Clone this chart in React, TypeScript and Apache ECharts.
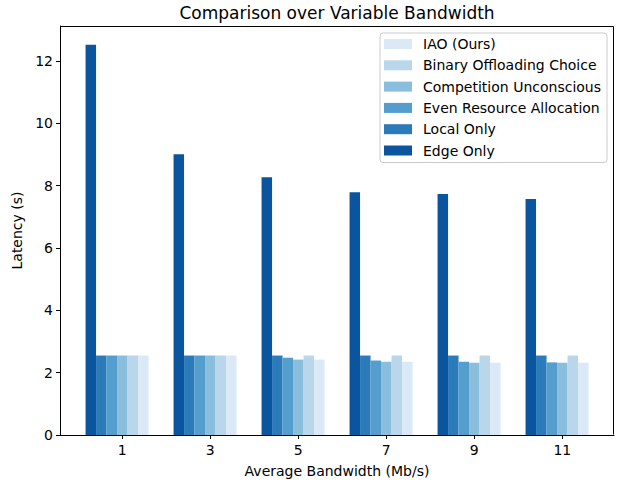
import React, { useEffect, useRef } from "react";
import * as echarts from "echarts";

const bandwidths = [1, 3, 5, 7, 9, 11];
const edgeOnly = [12.52, 9.01, 8.27, 7.79, 7.73, 7.57];
const localOnly = [2.55, 2.55, 2.55, 2.55, 2.55, 2.55];
const evenResource = [2.55, 2.55, 2.48, 2.39, 2.35, 2.33];
const competition = [2.55, 2.55, 2.42, 2.35, 2.32, 2.32];
const binaryChoice = [2.55, 2.55, 2.55, 2.55, 2.55, 2.55];
const iaoOurs = [2.55, 2.55, 2.42, 2.35, 2.32, 2.32];
const yTicks = [0, 2, 4, 6, 8, 10, 12];

const seriesDefs = [
  { name: "Edge Only", values: edgeOnly, color: "#0b559f" },
  { name: "Local Only", values: localOnly, color: "#2b7bba" },
  { name: "Even Resource Allocation", values: evenResource, color: "#539ecd" },
  { name: "Competition Unconscious", values: competition, color: "#89bedc" },
  { name: "Binary Offloading Choice", values: binaryChoice, color: "#bad6eb" },
  { name: "IAO (Ours)", values: iaoOurs, color: "#dbe9f6" },
];
const legendOrder = [
  "IAO (Ours)",
  "Binary Offloading Choice",
  "Competition Unconscious",
  "Even Resource Allocation",
  "Local Only",
  "Edge Only",
];

const FONT = "DejaVu Sans";
const X_MIN = -0.416;
const X_MAX = 12.175;
const Y_MAX = 13.125;
const BAR_W = 10.5;
const SHIFT = BAR_W / 2 / 44;

export default function App() {
  const ref = useRef<HTMLDivElement>(null);
  useEffect(() => {
    if (!ref.current) return;
    const chart = echarts.init(ref.current, null, { renderer: "svg" });
    chart.setOption({
      animation: false,
      backgroundColor: "#ffffff",
      title: {
        text: "Comparison over Variable Bandwidth",
        left: 337,
        textAlign: "center",
        top: 4,
        padding: 0,
        textStyle: { fontFamily: FONT, fontSize: 17, fontWeight: "normal", color: "#000" },
      },
      legend: {
        orient: "vertical",
        right: 33,
        top: 33,
        data: legendOrder,
        itemWidth: 28,
        itemHeight: 10,
        itemGap: 7.3,
        padding: [4, 6, 5, 4],
        borderColor: "#cccccc",
        borderWidth: 1,
        borderRadius: 3,
        backgroundColor: "rgba(255,255,255,0.8)",
        icon: "rect",
        textStyle: { fontFamily: FONT, fontSize: 14, color: "#000", lineHeight: 14, padding: [0, 0, 0, 6] },
      },
      grid: {
        left: 60,
        right: 26,
        top: 26,
        bottom: 45,
        containLabel: false,
        outerBoundsMode: "none",
      },
      xAxis: [
        {
          type: "value",
          min: X_MIN,
          max: X_MAX,
          position: "bottom",
          name: "Average Bandwidth (Mb/s)",
          nameLocation: "middle",
          nameGap: 29,
          nameTextStyle: { fontFamily: FONT, fontSize: 14, color: "#000" },
          axisLine: { show: true, onZero: false, lineStyle: { color: "#000" } },
          axisTick: { show: true, length: 4, lineStyle: { color: "#000" }, customValues: bandwidths },
          axisLabel: { fontFamily: FONT, fontSize: 14, color: "#000", margin: 8, customValues: bandwidths },
          splitLine: { show: false },
        },
        {
          type: "value",
          min: X_MIN + SHIFT,
          max: X_MAX + SHIFT,
          position: "top",
          axisLine: { show: false },
          axisTick: { show: false },
          axisLabel: { show: false },
          splitLine: { show: false },
        },
      ],
      yAxis: [
        {
          type: "value",
          min: 0,
          max: Y_MAX,
          position: "left",
          name: "Latency (s)",
          nameLocation: "middle",
          nameGap: 35,
          nameTextStyle: { fontFamily: FONT, fontSize: 14, color: "#000" },
          axisLine: { show: true, onZero: false, lineStyle: { color: "#000" } },
          axisTick: { show: true, length: 4, lineStyle: { color: "#000" }, customValues: yTicks },
          axisLabel: { fontFamily: FONT, fontSize: 14, color: "#000", margin: 7, customValues: yTicks },
          splitLine: { show: false },
        },
      ],
      series: seriesDefs.map((s) => ({
        name: s.name,
        type: "bar",
        xAxisIndex: 1,
        yAxisIndex: 0,
        barWidth: BAR_W,
        barGap: "0%",
        itemStyle: { color: s.color },
        data: bandwidths.map((b, i) => [b, s.values[i]]),
      })),
    });
    const tl = chart.convertToPixel({ xAxisIndex: 0, yAxisIndex: 0 }, [X_MIN, Y_MAX]) as number[];
    const br = chart.convertToPixel({ xAxisIndex: 0, yAxisIndex: 0 }, [X_MAX, 0]) as number[];
    if (tl && br) {
      const x0 = Math.round(tl[0]) + 0.5;
      const y0 = Math.round(tl[1]) + 0.5;
      const x1 = Math.round(br[0]) - 0.5;
      const y1 = Math.round(br[1]) - 0.5;
      chart.setOption({
        graphic: [
          {
            type: "polyline",
            silent: true,
            z: 100,
            shape: { points: [[x0, y1], [x0, y0], [x1, y0], [x1, y1]] },
            style: { stroke: "#000", lineWidth: 1, fill: null },
          },
        ],
      });
    }
    return () => chart.dispose();
  }, []);
  return <div ref={ref} style={{ width: 640, height: 480, position: "absolute", left: 0, top: 0 }} />;
}
